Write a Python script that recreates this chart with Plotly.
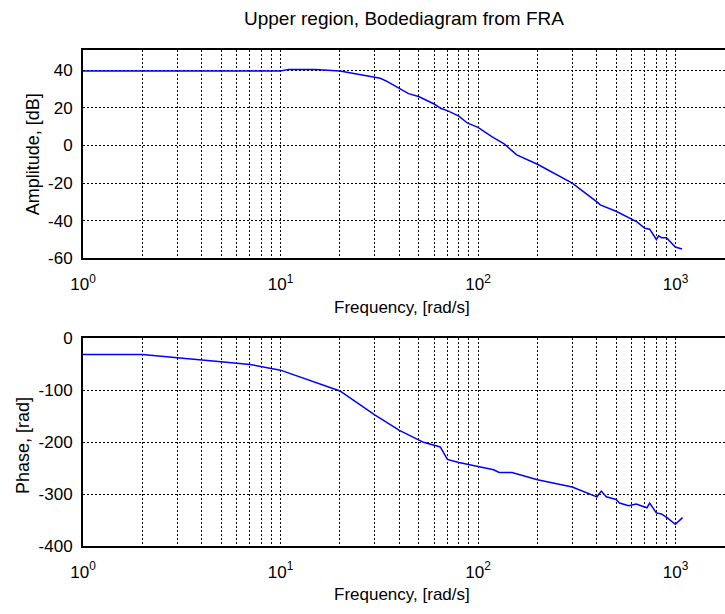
import plotly.graph_objects as go

# Amplitude panel data
freq_mag = [1, 10, 11, 15, 20, 30, 32, 34.6, 40, 44.5, 50, 60, 65, 70, 80, 88.6, 100,
            118, 135, 157, 200, 300, 400, 416, 500, 600, 638, 700, 740, 800, 822, 848,
            900, 998, 1079]
mag_db = [39.5, 39.5, 40.4, 40.4, 39.5, 36.5, 35.7, 34, 30.5, 27.5, 26, 22, 19.6, 18.5,
          15.6, 11.8, 9.6, 4.5, 1.0, -5, -10, -20, -30, -31.6, -35, -39.5, -40.6, -44,
          -44.5, -50, -48, -49, -49, -54, -55]

# Phase panel data
freq_ph = [1, 2, 3, 4, 5, 7, 10, 20, 30, 40, 53, 64.4, 70, 80, 100, 120, 128, 148.6,
           200, 300, 400, 421, 446, 500, 521, 579, 633, 700, 717, 740, 800, 848, 906,
           998, 1086]
phase = [-31, -31, -37, -42, -45, -50, -61, -101, -147, -177, -200, -209, -233, -239,
         -247, -253, -258, -258, -272, -286, -305, -294, -305, -310, -317, -322, -319,
         -325, -326, -317, -336, -338, -345, -358, -345]

mag_ticks = [-60, -40, -20, 0, 20, 40]
phase_ticks = [-400, -300, -200, -100, 0]

title_text = "Upper region, Bodediagram from FRA"
xlabel = "Frequency, [rad/s]"
ylabel_top = "Amplitude, [dB]"
ylabel_bot = "Phase, [rad]"

# log-axis grid positions and labels
xtickvals = []
xticktext = []
for k in range(0, 4):
    for m in range(1, 10):
        v = m * 10 ** k
        if v > 1500:
            break
        xtickvals.append(v)
        xticktext.append(f"10<sup>{k}</sup>" if m == 1 else "")

FONT = "Liberation Sans, Arial, sans-serif"
blue = "rgb(0,0,255)"

fig = go.Figure()
fig.add_trace(go.Scatter(x=freq_mag, y=mag_db, mode="lines",
                         line=dict(color=blue, width=1.5), xaxis="x", yaxis="y",
                         showlegend=False))
fig.add_trace(go.Scatter(x=freq_ph, y=phase, mode="lines",
                         line=dict(color=blue, width=1.5), xaxis="x2", yaxis="y2",
                         showlegend=False))

L = 83
W = 725 - L + 12  # plot area extends past the window edge (cropped, as in reference)
dec = 197.5
xr = [0, W / dec]
GRIDDASH = "2px,2px"
common_x = dict(type="log", range=xr, tickvals=xtickvals, ticktext=xticktext,
                showgrid=True, gridcolor="black", gridwidth=1, griddash=GRIDDASH,
                showline=True, linecolor="black", linewidth=2, mirror=True,
                ticks="", ticklabelstandoff=9,
                tickfont=dict(family=FONT, size=17, color="black"),
                zeroline=False, domain=[0, 1])
common_y = dict(showgrid=True, gridcolor="black", gridwidth=1, griddash=GRIDDASH,
                showline=True, linecolor="black", linewidth=2, mirror=False,
                ticks="", zeroline=False, ticklabelstandoff=5,
                tickfont=dict(family=FONT, size=17, color="black"))

H = 614.0
fig.update_layout(
    width=725 + 12, height=614,
    margin=dict(l=L, r=0, t=0, b=0),
    paper_bgcolor="white", plot_bgcolor="white",
    xaxis=dict(common_x, anchor="y"),
    yaxis=dict(common_y, range=[-60, 50.5], tickvals=mag_ticks,
               ticktext=[str(v) for v in mag_ticks],
               domain=[(H - 257.3) / H, (H - 42.7) / H], anchor="x"),
    xaxis2=dict(common_x, anchor="y2"),
    yaxis2=dict(common_y, range=[-400, 0], tickvals=phase_ticks,
                ticktext=[str(v) for v in phase_ticks],
                domain=[(H - 554.3) / H, (H - 340) / H], anchor="x2"),
    title=dict(text=title_text, x=(404 - L) / W, xanchor="center", xref="paper",
               y=1 - 18 / H, yref="container", yanchor="middle",
               font=dict(family=FONT, size=19, color="black")),
    annotations=[
        dict(text=xlabel, xref="paper", yref="paper", x=(402 - L) / W,
             y=1 - 308 / H, xanchor="center", yanchor="middle", showarrow=False,
             font=dict(family=FONT, size=17, color="black")),
        dict(text=xlabel, xref="paper", yref="paper", x=(402 - L) / W,
             y=1 - 604 / H, xanchor="center", yanchor="middle", showarrow=False,
             font=dict(family=FONT, size=17, color="black")),
        dict(text=ylabel_top, xref="paper", yref="paper", x=(33 - L) / W,
             y=1 - 150 / H, xanchor="center", yanchor="middle", showarrow=False,
             textangle=-90, font=dict(family=FONT, size=18, color="black")),
        dict(text=ylabel_bot, xref="paper", yref="paper", x=(23 - L) / W,
             y=1 - 451 / H, xanchor="center", yanchor="middle", showarrow=False,
             textangle=-90, font=dict(family=FONT, size=18, color="black")),
    ],
)

fig.write_html("out.html")
